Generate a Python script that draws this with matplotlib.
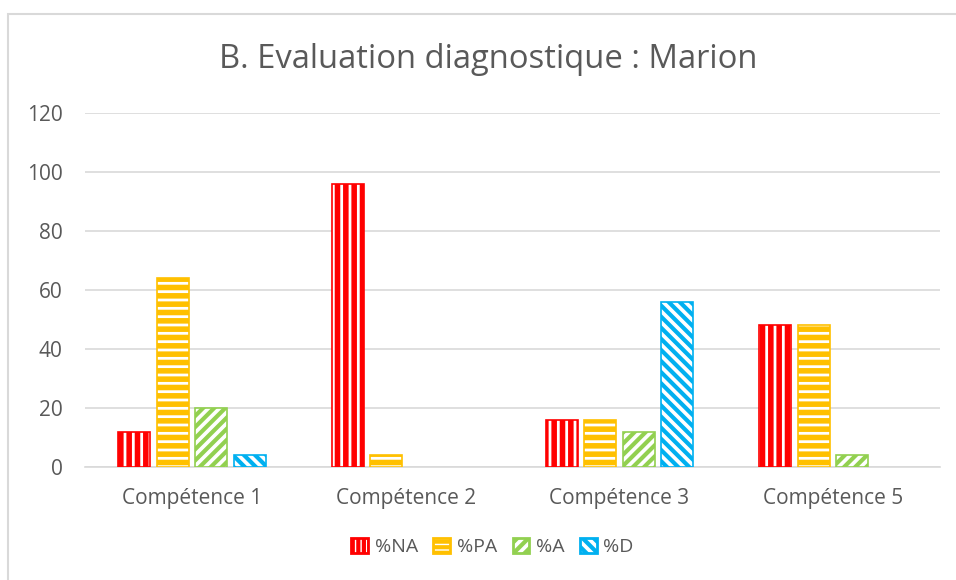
import matplotlib
matplotlib.use("Agg")
import matplotlib.pyplot as plt
import numpy as np
from matplotlib.patches import Rectangle, Patch

categories = ["Compétence 1", "Compétence 2", "Compétence 3", "Compétence 5"]
series_names = ["%NA", "%PA", "%A", "%D"]
na_values = [12, 96, 16, 48]
pa_values = [64, 4, 16, 48]
a_values = [20, 0, 12, 4]
d_values = [4, 0, 56, 0]
yticks = [0, 20, 40, 60, 80, 100, 120]

colors = ["#FF0000", "#FFC000", "#92D050", "#00B0F0"]
hatches = ["||", "--", "///", "\\\\\\"]
hlw = [4.0, 4.0, 3.0, 3.0]

plt.rcParams['font.family'] = ['Open Sans', 'DejaVu Sans']
text_color = "#595959"

fig = plt.figure(figsize=(9.56, 5.80), dpi=100)
ax = fig.add_axes([85/956, 1-467/580, (940-85)/956, (467-113)/580])

x = np.arange(len(categories))
width = 0.15
step = 0.18
offsets = [-1.5*step, -0.5*step, 0.5*step, 1.5*step]
all_vals = [na_values, pa_values, a_values, d_values]
for i, vals in enumerate(all_vals):
    with plt.rc_context({'hatch.linewidth': hlw[i]}):
        bars = ax.bar(x + offsets[i], vals, width, facecolor="white",
                      edgecolor=colors[i], hatch=hatches[i], linewidth=1.2,
                      label=series_names[i], zorder=3)
        for b in bars:
            if b.get_height() == 0:
                b.set_visible(False)

ax.set_xlim(-0.5, 3.5)
ax.set_ylim(0, 120)
ax.set_yticks(yticks)
ax.set_xticks(x)
ax.set_xticklabels(categories)
ax.grid(axis='y', color="#D9D9D9", linewidth=1.2, zorder=0)
for s in ['top', 'right', 'left']:
    ax.spines[s].set_visible(False)
ax.spines['bottom'].set_color("#D9D9D9")
ax.spines['bottom'].set_linewidth(1.2)
ax.tick_params(axis='both', length=0, labelsize=15, colors=text_color)
ax.tick_params(axis='y', pad=16)
ax.tick_params(axis='x', pad=15)

fig.text(488.5/956, 1-60/580, "B. Evaluation diagnostique : Marion", ha='center', va='center',
         fontsize=23.6, color=text_color)

leg_hatches = ["|||", "---", "///", "\\\\\\"]
with plt.rc_context({'hatch.linewidth': 3.0}):
    handles = [Patch(facecolor="white", edgecolor=colors[i], hatch=leg_hatches[i], linewidth=2)
               for i in range(4)]
    leg = fig.legend(handles, series_names, loc='center', bbox_to_anchor=(492.5/956, 1-547/580),
                     ncol=4, frameon=False, fontsize=14, handlelength=0.85, handleheight=0.85,
                     handletextpad=0.35, columnspacing=0.8)
for t in leg.get_texts():
    t.set_color(text_color)

fig.add_artist(Rectangle((8/956, -0.1), 1.2, 1.1 - 14/580, transform=fig.transFigure,
                         fill=False, edgecolor="#D9D9D9", linewidth=1.5))

fig.savefig("out.png", dpi=100)
